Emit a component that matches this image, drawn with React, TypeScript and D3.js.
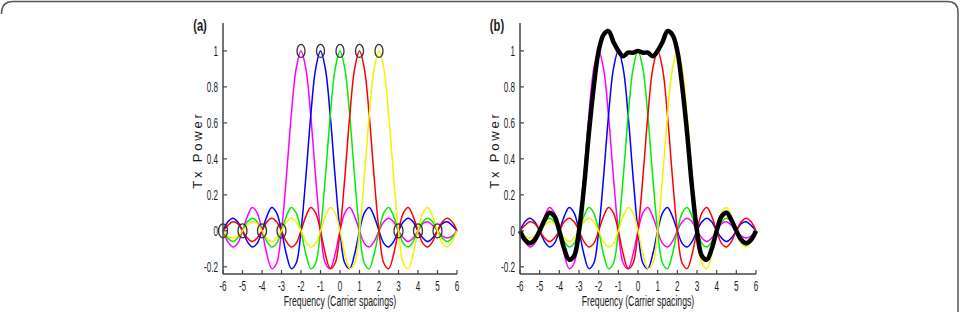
import React from 'react';
import * as d3 from 'd3';

// frequency grid, carrier spacings (-6 .. 6 in quarter steps)
const freqs = d3.range(49).map(i => -6 + i * 0.25);

const magentaCarrier = [0,-.06,-.09,-.07,0,.08,.13,.10,0,-.13,-.21,-.18,0,.30,.64,.90,1,.90,.64,.30,0,-.18,-.21,-.13,0,.10,.13,.08,0,-.07,-.09,-.06,0,.05,.07,.05,0,-.04,-.06,-.04,0,.04,.05,.03,0,-.03,-.04,-.03,0];
const blueCarrier = [0,.05,.07,.05,0,-.06,-.09,-.07,0,.08,.13,.10,0,-.13,-.21,-.18,0,.30,.64,.90,1,.90,.64,.30,0,-.18,-.21,-.13,0,.10,.13,.08,0,-.07,-.09,-.06,0,.05,.07,.05,0,-.04,-.06,-.04,0,.04,.05,.03,0];
const greenCarrier = [0,-.04,-.06,-.04,0,.05,.07,.05,0,-.06,-.09,-.07,0,.08,.13,.10,0,-.13,-.21,-.18,0,.30,.64,.90,1,.90,.64,.30,0,-.18,-.21,-.13,0,.10,.13,.08,0,-.07,-.09,-.06,0,.05,.07,.05,0,-.04,-.06,-.04,0];
const redCarrier = [0,.03,.05,.04,0,-.04,-.06,-.04,0,.05,.07,.05,0,-.06,-.09,-.07,0,.08,.13,.10,0,-.13,-.21,-.18,0,.30,.64,.90,1,.90,.64,.30,0,-.18,-.21,-.13,0,.10,.13,.08,0,-.07,-.09,-.06,0,.05,.07,.05,0];
const yellowCarrier = [0,-.03,-.04,-.03,0,.03,.05,.04,0,-.04,-.06,-.04,0,.05,.07,.05,0,-.06,-.09,-.07,0,.08,.13,.10,0,-.13,-.21,-.18,0,.30,.64,.90,1,.90,.64,.30,0,-.18,-.21,-.13,0,.10,.13,.08,0,-.07,-.09,-.06,0];
const totalPower = [0,-.05,-.07,-.05,0,.06,.10,.08,0,-.10,-.16,-.14,0,.24,.54,.80,1,1.09,1.11,1.05,1,.97,.99,.99,1,.99,.99,.97,1,1.05,1.11,1.09,1,.80,.54,.24,0,-.14,-.16,-.10,0,.08,.10,.06,0,-.05,-.07,-.05,0];

const carriers = [
  { values: magentaCarrier, color: '#ff00ff' },
  { values: blueCarrier, color: '#0000ff' },
  { values: greenCarrier, color: '#00ee00' },
  { values: redCarrier, color: '#ff0000' },
  { values: yellowCarrier, color: '#f2f200' },
];

// panel (a) markers
const peakMarks = [-2, -1, 0, 1, 2];
const zeroMarks = [-6, -5, -4, -3, 3, 4, 5];

const xTicks = [-6, -5, -4, -3, -2, -1, 0, 1, 2, 3, 4, 5, 6];
const yTicks = [-0.2, 0, 0.2, 0.4, 0.6, 0.8, 1];

const FONT = 'Liberation Sans, Arial, sans-serif';
const AXIS = '#444';
const INK = '#1a1a1a';

function Panel({ left, right, label, showSum }) {
  const top = 23, bottom = 274;
  const x = d3.scaleLinear().domain([-6, 6]).range([left, right]);
  const y = d3.scaleLinear().domain([-0.24, 1.155]).range([bottom, top]);
  const line = d3.line<number>()
    .x((d, i) => x(freqs[i]))
    .y(d => y(d))
    .curve(d3.curveCatmullRom);
  const mid = (left + right) / 2;

  return (
    <g>
      {carriers.map((c, i) => (
        <path key={i} d={line(c.values) || ''} fill="none" stroke={c.color} strokeWidth={1.5} />
      ))}
      {showSum && (
        <path d={line(totalPower) || ''} fill="none" stroke="#000" strokeWidth={4.5} strokeLinejoin="round" />
      )}
      {!showSum && peakMarks.map(f => (
        <ellipse key={'p' + f} cx={x(f)} cy={y(1)} rx={4} ry={6.5} fill="none" stroke="#333" strokeWidth={1.3} />
      ))}
      {!showSum && zeroMarks.map(f => (
        <ellipse key={'z' + f} cx={x(f)} cy={y(0)} rx={4.5} ry={7} fill="none" stroke="#333" strokeWidth={1.3} />
      ))}

      <line x1={left} x2={left} y1={top} y2={bottom} stroke={AXIS} strokeWidth={1.5} />
      <line x1={left} x2={right} y1={bottom} y2={bottom} stroke={AXIS} strokeWidth={1.5} />
      {yTicks.map(t => (
        <g key={'y' + t}>
          <line x1={left} x2={left + 4} y1={y(t)} y2={y(t)} stroke={AXIS} strokeWidth={1.2} />
          <text transform={`translate(${left - 5},${y(t) + 5}) scale(0.58,1)`} textAnchor="end"
            fontFamily={FONT} fontSize={14} fill={INK}>{t === 0 ? '0' : String(t)}</text>
        </g>
      ))}
      {xTicks.map(t => (
        <g key={'x' + t}>
          <line x1={x(t)} x2={x(t)} y1={bottom} y2={bottom - 4} stroke={AXIS} strokeWidth={1.2} />
          <text transform={`translate(${x(t)},${291}) scale(0.58,1)`} textAnchor="middle"
            fontFamily={FONT} fontSize={14} fill={INK}>{String(t)}</text>
        </g>
      ))}
      <text transform={`translate(${mid},${306}) scale(0.6,1)`} textAnchor="middle"
        fontFamily={FONT} fontSize={14.5} fill={INK}>Frequency (Carrier spacings)</text>
      <text transform={`translate(${left - 21},${150}) rotate(-90)`} textAnchor="middle"
        fontFamily={FONT} fontSize={13} letterSpacing={2.8} fill={INK}>Tx Power</text>
      <text transform={`translate(${left - 23},${31}) scale(0.7,1)`} textAnchor="middle"
        fontFamily={FONT} fontSize={16} fontWeight="bold" fill={INK}>{label}</text>
    </g>
  );
}

export default function App() {
  return (
    <svg width={961} height={312} style={{ position: 'fixed', left: 0, top: 0, background: '#fff' }}>
      <path d="M1.5,14 Q1.5,1.5 13,1.5 H947 Q958,1.5 958,12 V312" fill="none" stroke="#555" strokeWidth={1.5} />
      <Panel left={223} right={457} label="(a)" showSum={false} />
      <Panel left={520} right={756} label="(b)" showSum={true} />
    </svg>
  );
}
